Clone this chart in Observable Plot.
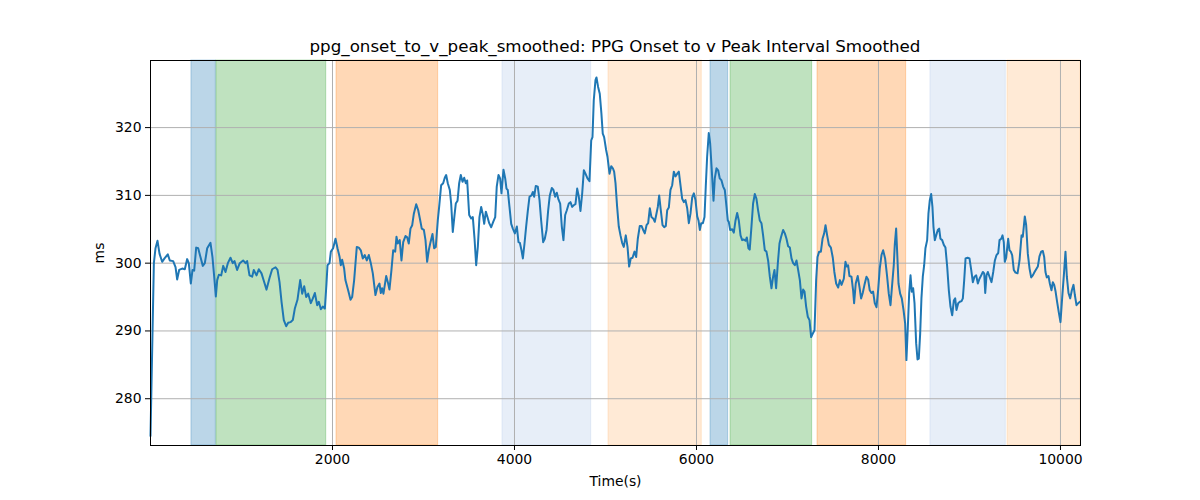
<!DOCTYPE html>
<html>
<head>
<meta charset="utf-8">
<script src="https://cdn.jsdelivr.net/npm/d3@7"></script>
<script src="https://cdn.jsdelivr.net/npm/@observablehq/plot@0.6"></script>
<style>
  html, body { margin: 0; padding: 0; background: #fff; }
  #wrap { position: relative; width: 1200px; height: 500px; font-family: "DejaVu Sans", sans-serif; }
  #title { position: absolute; left: 150px; width: 930px; top: 35px; height: 22px; line-height: 22px;
           text-align: center; font-size: 16.7px; color: #000; }
  #chart { position: absolute; left: 0; top: 0; }
</style>
</head>
<body>
<div id="wrap">
  <div id="chart"></div>
  <div id="title">ppg_onset_to_v_peak_smoothed: PPG Onset to v Peak Interval Smoothed</div>
</div>
<script>
const titleText = "ppg_onset_to_v_peak_smoothed: PPG Onset to v Peak Interval Smoothed";
const xLabel = "Time(s)";
const yLabel = "ms";
const xTicks = [2000, 4000, 6000, 8000, 10000];
const yTicks = [280, 290, 300, 310, 320];

const times = [0,37,55,77,99,128,154,190,212,249,275,293,315,348,377,403,421,443,462,480,502,524,549,575,597,623,659,681,700,718,733,751,777,799,824,850,879,904,923,952,981,1018,1044,1062,1088,1117,1135,1165,1190,1220,1245,1275,1308,1337,1374,1396,1418,1440,1465,1491,1513,1538,1564,1586,1615,1645,1667,1689,1711,1733,1762,1784,1806,1832,1850,1872,1894,1916,1934,1945,1967,1982,2007,2033,2055,2077,2091,2106,2128,2142,2172,2198,2216,2238,2267,2289,2311,2333,2355,2377,2399,2421,2443,2472,2494,2516,2531,2545,2560,2590,2608,2626,2648,2667,2689,2703,2717,2739,2758,2777,2802,2821,2838,2857,2876,2894,2920,2942,2960,2981,3004,3022,3040,3058,3077,3099,3117,3135,3157,3172,3194,3216,3234,3249,3267,3289,3304,3322,3341,3355,3374,3392,3410,3429,3447,3465,3480,3502,3524,3542,3561,3579,3597,3615,3634,3652,3667,3685,3703,3722,3744,3766,3788,3805,3824,3842,3857,3879,3898,3912,3926,3945,3964,3982,4004,4026,4044,4059,4077,4092,4110,4128,4147,4165,4187,4202,4216,4234,4256,4275,4293,4315,4333,4352,4370,4388,4410,4428,4447,4465,4483,4502,4520,4538,4557,4575,4597,4615,4634,4656,4670,4689,4707,4725,4744,4762,4780,4802,4824,4843,4857,4871,4890,4901,4919,4937,4955,4970,4985,5007,5022,5044,5063,5081,5095,5110,5128,5146,5165,5183,5201,5223,5242,5260,5278,5297,5319,5337,5355,5377,5396,5414,5432,5451,5469,5487,5505,5524,5542,5560,5575,5590,5608,5627,5645,5663,5678,5696,5714,5733,5751,5769,5788,5806,5824,5843,5861,5879,5898,5916,5934,5953,5971,5989,6008,6022,6037,6052,6070,6088,6102,6117,6135,6150,6168,6187,6201,6220,6238,6256,6275,6293,6311,6330,6344,6355,6370,6392,6410,6429,6447,6465,6484,6502,6520,6539,6553,6571,6585,6604,6622,6641,6659,6677,6696,6714,6732,6751,6769,6787,6806,6824,6842,6857,6875,6894,6912,6930,6952,6971,6989,7007,7026,7044,7062,7081,7099,7117,7136,7154,7172,7187,7205,7223,7242,7260,7278,7297,7315,7330,7348,7367,7385,7403,7418,7436,7455,7477,7498,7515,7535,7557,7576,7594,7619,7637,7651,7666,7681,7703,7721,7732,7750,7772,7791,7809,7827,7846,7868,7886,7904,7923,7941,7959,7978,7996,8014,8033,8051,8073,8095,8113,8132,8150,8168,8179,8194,8205,8220,8238,8256,8275,8293,8307,8322,8337,8352,8366,8381,8396,8414,8429,8443,8458,8472,8487,8502,8516,8535,8549,8564,8579,8593,8604,8619,8634,8652,8667,8681,8700,8718,8736,8755,8773,8791,8810,8828,8843,8857,8876,8894,8913,8927,8942,8957,8979,9000,9019,9037,9055,9074,9092,9110,9129,9147,9162,9173,9187,9202,9220,9242,9261,9279,9297,9316,9330,9349,9363,9377,9388,9403,9425,9440,9454,9469,9487,9506,9528,9550,9572,9586,9608,9623,9641,9660,9678,9696,9715,9733,9751,9769,9788,9806,9821,9835,9850,9868,9883,9901,9916,9931,9945,9963,9982,10000,10019,10037,10055,10070,10088,10107,10125,10143,10158,10176,10195,10213];

const values = [274.5,300.0,302.2,303.3,301.4,300.2,300.7,301.3,300.4,300.3,299.4,297.6,299.0,299.2,299.1,300.6,300.0,297.0,299.0,298.9,302.3,302.2,300.9,299.6,300.0,302.2,303.0,300.9,298.0,295.1,297.5,298.3,298.2,299.6,298.7,300.0,300.8,300.0,300.3,299.0,300.0,300.4,300.0,300.3,298.2,298.0,299.0,298.2,299.1,298.5,297.4,296.1,297.8,299.1,299.4,299.0,297.2,294.3,291.6,290.7,291.2,291.3,291.6,293.3,294.6,297.5,295.5,296.6,295.0,295.5,294.1,294.8,295.6,293.8,294.3,293.2,293.6,293.3,297.0,299.7,300.0,301.7,302.2,303.6,302.2,301.0,299.7,300.5,299.2,297.5,296.0,294.6,295.0,297.5,302.4,302.3,301.9,300.7,301.2,300.4,301.2,300.0,298.5,295.3,296.5,297.0,295.6,296.3,295.5,298.1,297.2,296.1,299.0,301.9,301.7,303.9,302.9,303.4,300.4,303.1,304.0,303.8,302.9,305.1,305.6,307.3,308.7,307.8,306.6,305.1,304.9,303.4,300.2,301.9,303.1,304.3,302.2,302.4,306.3,308.3,311.5,311.8,312.6,313.0,311.8,310.8,308.8,304.6,307.1,308.8,309.2,311.8,313.0,312.0,312.6,311.8,312.2,307.1,306.6,306.8,303.6,299.7,302.4,306.8,308.3,307.2,305.8,307.6,306.8,305.9,305.3,306.1,306.8,311.3,313.0,312.5,310.3,313.8,312.5,311.0,310.8,308.3,305.8,305.1,304.4,305.4,303.1,303.0,301.9,300.7,302.9,305.4,307.8,309.8,310.0,310.5,309.8,311.4,311.3,309.3,306.3,303.1,303.6,304.9,307.8,310.0,311.1,310.8,309.8,310.4,309.4,308.8,305.4,303.4,307.1,307.8,308.8,309.0,308.3,308.6,308.7,311.0,309.8,307.7,310.3,313.7,313.2,312.5,312.1,318.1,318.6,324.0,327.0,327.4,326.0,325.0,322.1,319.1,318.6,316.7,315.7,313.2,314.3,314.0,313.5,311.8,308.3,305.4,304.1,303.0,302.4,304.1,302.4,299.5,300.7,300.8,301.7,300.9,303.6,305.5,305.5,304.9,304.4,305.6,305.9,308.1,306.8,306.6,306.1,307.3,308.3,310.0,307.8,305.6,305.3,305.5,307.8,308.2,310.8,311.5,313.5,312.8,313.2,313.5,311.5,309.5,309.0,309.3,308.1,305.9,307.3,309.7,310.3,309.3,306.9,306.3,304.9,305.9,305.9,306.8,311.3,315.7,319.2,317.7,313.7,309.2,312.5,314.0,313.7,312.5,312.2,311.3,310.8,308.3,306.3,306.1,304.9,305.0,304.5,306.3,307.4,306.3,304.1,303.4,303.5,303.3,303.8,302.2,302.0,305.4,308.8,310.2,309.5,307.8,306.3,305.9,304.1,301.9,301.7,300.4,298.0,296.3,298.0,299.0,296.3,300.0,302.9,303.9,304.9,304.4,303.6,302.5,302.3,300.7,300.0,299.7,300.4,299.0,297.5,294.8,296.1,295.8,293.6,292.1,291.6,289.1,289.6,290.1,297.5,300.9,301.7,301.7,303.6,304.4,305.6,304.1,302.7,302.3,300.8,298.7,297.0,296.4,297.5,296.8,297.7,300.2,299.5,299.7,298.1,298.0,296.0,294.1,297.0,298.1,296.5,294.8,295.6,296.8,298.0,297.6,296.0,295.6,295.8,294.1,293.5,296.0,299.2,301.2,301.9,300.7,298.0,295.5,293.8,296.8,299.7,302.7,305.1,301.7,297.0,295.5,294.8,293.1,291.1,285.7,290.4,295.5,298.2,295.8,296.3,294.1,288.2,285.8,285.9,289.6,294.8,298.0,299.7,302.2,303.4,307.3,309.3,310.2,308.3,305.4,303.4,304.1,304.9,305.1,303.6,303.4,302.7,302.3,299.5,296.0,293.6,292.3,294.5,294.8,293.1,294.1,294.3,294.4,294.8,297.5,300.7,300.8,300.7,299.0,297.2,298.0,298.2,297.0,297.7,298.2,298.7,298.5,295.6,298.2,298.7,298.0,297.2,298.7,300.4,301.2,301.5,303.4,303.6,304.1,303.1,300.2,300.8,303.6,301.9,301.7,301.2,299.0,298.6,298.5,300.4,304.1,303.9,306.9,305.6,301.4,299.2,297.9,298.2,298.7,299.1,299.5,301.0,301.7,301.8,300.9,298.7,297.9,298.1,297.0,296.0,297.2,296.8,295.9,294.3,292.7,291.3,295.0,298.2,301.7,298.0,295.6,294.8,296.0,296.8,295.3,293.8,294.1,294.3];

const spanStarts = [450, 725, 2044, 3868, 5033, 6154, 6374, 7330, 8571, 9418];
const spanEnds   = [718, 1931, 3161, 4843, 6058, 6348, 7271, 8304, 9399, 10220];
const spanColors = ["#1f77b4", "#2ca02c", "#ff7f0e", "#aec7e8", "#ffbb78", "#1f77b4", "#2ca02c", "#ff7f0e", "#aec7e8", "#ffbb78"];

const spans = spanStarts.map((s, i) => ({start: s, end: spanEnds[i], color: spanColors[i]}));
const points = times.map((t, i) => ({t, v: values[i]}));

document.getElementById("title").textContent = titleText;

const chart = Plot.plot({
  width: 1200,
  height: 500,
  marginLeft: 150,
  marginRight: 120,
  marginTop: 60,
  marginBottom: 55,
  style: {fontFamily: "DejaVu Sans, sans-serif", fontSize: "13.9px", color: "#000", background: "transparent"},
  x: {domain: [0, 10220]},
  y: {domain: [273.1, 329.9]},
  marks: [
    Plot.rect(spans, {x1: "start", x2: "end", fill: "color", fillOpacity: 0.3, stroke: "color", strokeOpacity: 0.3, strokeWidth: 1}),
    Plot.gridX(xTicks, {stroke: "#b0b0b0", strokeOpacity: 1, strokeWidth: 1}),
    Plot.gridY(yTicks, {stroke: "#b0b0b0", strokeOpacity: 1, strokeWidth: 1}),
    Plot.line(points, {x: "t", y: "v", stroke: "#1f77b4", strokeWidth: 2, curve: "linear"}),
    Plot.frame({stroke: "#000", strokeWidth: 1}),
    Plot.axisX({ticks: xTicks, tickSize: 5, tickPadding: 4, tickFormat: d => String(d), fontSize: 13.9,
                label: xLabel, labelAnchor: "center", labelArrow: "none", labelOffset: 40}),
    Plot.axisY({ticks: yTicks, tickSize: 5, tickPadding: 4, tickFormat: d => String(d), fontSize: 13.9,
                label: yLabel, labelAnchor: "center", labelArrow: "none", labelOffset: 56})
  ]
});
document.getElementById("chart").appendChild(chart);
</script>
</body>
</html>
